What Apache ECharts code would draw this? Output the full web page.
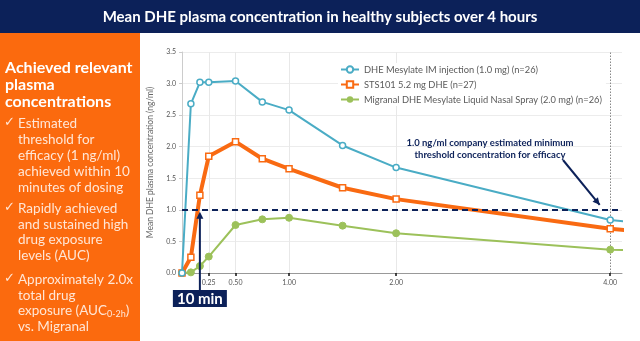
<!DOCTYPE html>
<html><head><meta charset="utf-8">
<script src="https://cdn.jsdelivr.net/npm/echarts@6/dist/echarts.min.js"></script>
<style>html,body{margin:0;padding:0;background:#fff}#c{width:640px;height:341px}</style>
</head><body><div id="c"></div>
<script>
// ---- data ----
var times = [0, 0.083, 0.167, 0.25, 0.5, 0.75, 1.0, 1.5, 2.0, 4.0, 6.0];
var imInjection = [0, 2.68, 3.02, 3.02, 3.04, 2.71, 2.58, 2.02, 1.67, 0.84, 0.48];
var sts101 = [0, 0.25, 1.23, 1.85, 2.08, 1.81, 1.65, 1.35, 1.17, 0.70, 0.42];
var migranal = [0, 0.01, 0.11, 0.26, 0.76, 0.85, 0.875, 0.75, 0.63, 0.37, 0.28];
var seriesNames = ['DHE Mesylate IM injection (1.0 mg) (n=26)', 'STS101 5.2 mg DHE (n=27)', 'Migranal DHE Mesylate Liquid Nasal Spray (2.0 mg) (n=26)'];
var xTickValues = [0.25, 0.5, 1.0, 2.0, 4.0];
var threshold = 1.0;
var tenMin = 0.167;

function pairs(v){ return times.map(function(t,i){ return [t, v[i]]; }); }

var chart = echarts.init(document.getElementById('c'), null, {renderer:'canvas'});
var font = 'Lato, "Open Sans", sans-serif';
var navy = '#0c2159';

var option = {
  animation:false,
  textStyle:{fontFamily:font},
  grid:{left:182, right:18, top:52, bottom:68},
  xAxis:{type:'value', min:0, max:4.11,
    axisLine:{lineStyle:{color:'#999', width:1}},
    axisTick:{show:true, customValues:xTickValues, length:3, inside:false, lineStyle:{color:'#111', width:1.5}},
    axisLabel:{customValues:xTickValues, formatter:function(v){return v.toFixed(2);}, fontSize:7, color:'#555', margin:6},
    splitLine:{show:false}},
  yAxis:{type:'value', min:0, max:3.5, interval:0.5,
    name:'Mean DHE plasma concentration (ng/ml)', nameLocation:'middle', nameGap:27,
    nameTextStyle:{fontSize:8.5, color:'#666'},
    axisLine:{show:true, lineStyle:{color:'#ccc'}},
    axisTick:{show:true, length:3, lineStyle:{color:'#ccc'}},
    axisLabel:{formatter:function(v){return v.toFixed(1);}, fontSize:7, color:'#555', margin:6},
    splitLine:{lineStyle:{color:'#ececec'}}},
  legend:{orient:'vertical', left:338, top:63, itemGap:6, itemWidth:18, itemHeight:8, padding:[2,4,2,2],
    backgroundColor:'#fff', z:12,
    textStyle:{fontSize:9.3, color:'#5a5a5a', fontFamily:font},
    data:seriesNames},
  series:[
    {name:seriesNames[0], type:'line', data:pairs(imInjection), clip:true, z:4,
     symbol:'circle', symbolSize:6, itemStyle:{color:'#fff', borderColor:'#4aacc5', borderWidth:1.5},
     lineStyle:{color:'#4aacc5', width:2},
     markLine:{silent:true, symbol:'none', label:{show:false}, z:1,
       lineStyle:{color:'#e8e8e8', width:1, type:'solid'},
       data:xTickValues.slice(0,4).map(function(v){return {xAxis:v};}).concat([
         {xAxis:xTickValues[4], lineStyle:{color:'#888', type:[1.5,1.5], width:1}}])}},
    {name:seriesNames[1], type:'line', data:pairs(sts101), clip:true, z:3,
     symbol:'rect', symbolSize:6, itemStyle:{color:'#fff', borderColor:'#f96a12', borderWidth:1.5},
     lineStyle:{color:'#f96a12', width:4},
     markLine:{silent:true, symbol:'none', label:{show:false},
       lineStyle:{color:navy, width:2, type:[6,4]}, z:10,
       data:[{yAxis:threshold}]}},
    {name:seriesNames[2], type:'line', data:pairs(migranal), clip:true, z:2,
     symbol:'circle', symbolSize:7, itemStyle:{color:'#9cc15a', borderColor:'#9cc15a'},
     lineStyle:{color:'#9cc15a', width:2}}
  ]
};
chart.setOption(option);

var tip10 = chart.convertToPixel({gridIndex:0}, [tenMin, threshold]);
var tip4 = chart.convertToPixel({gridIndex:0}, [3.92, threshold]);
var axisY0 = chart.convertToPixel({gridIndex:0}, [0, 0]);

function arrowHead(x1,y1,x2,y2){
  var a=Math.atan2(y2-y1,x2-x1), L=7, W=3.5;
  var bx=x2-L*Math.cos(a), by=y2-L*Math.sin(a);
  return [[x2,y2],[bx+W*Math.sin(a), by-W*Math.cos(a)],[bx-W*Math.sin(a), by+W*Math.cos(a)]];
}

var bodyColor = '#ffe6d6';
var graphics = [
  {type:'rect', z:5, shape:{x:0, y:0, width:640, height:33}, style:{fill:navy}},
  {type:'text', z:6, x:320, y:17, style:{text:'Mean DHE plasma concentration in healthy subjects over 4 hours', fill:'#fff', font:'bold 15px '+font, align:'center', verticalAlign:'middle'}},
  {type:'rect', z:5, shape:{x:0, y:33, width:140, height:308}, style:{fill:'#fb6a0e'}},
  {type:'text', z:6, x:5, y:59, style:{text:'Achieved relevant\nplasma\nconcentrations', fill:'#fff', font:'bold 16px '+font, lineHeight:17}},
  {type:'text', z:6, x:4, y:116, style:{text:'✓', fill:bodyColor, font:'13px "DejaVu Sans"'}},
  {type:'text', z:6, x:18, y:116, style:{text:'Estimated\nthreshold for\nefficacy (1 ng/ml)\nachieved within 10\nminutes of dosing', fill:bodyColor, font:'13.5px '+font, lineHeight:16}},
  {type:'text', z:6, x:4, y:201, style:{text:'✓', fill:bodyColor, font:'13px "DejaVu Sans"'}},
  {type:'text', z:6, x:18, y:201, style:{text:'Rapidly achieved\nand sustained high\ndrug exposure\nlevels (AUC)', fill:bodyColor, font:'13.5px '+font, lineHeight:15.5}},
  {type:'text', z:6, x:4, y:272, style:{text:'✓', fill:bodyColor, font:'13px "DejaVu Sans"'}},
  {type:'text', z:6, x:18, y:272, style:{
    rich:{b:{fill:bodyColor, fontSize:13.5, fontFamily:font, lineHeight:15.5},
          s:{fill:bodyColor, fontSize:9, fontFamily:font, lineHeight:15.5, padding:[6,0,0,0]}},
    text:'{b|Approximately 2.0x}\n{b|total drug}\n{b|exposure (AUC}{s|0-2h}{b|)}\n{b|vs. Migranal}'}},
  // threshold annotation
  {type:'text', z:6, x:490, y:149, style:{text:'1.0 ng/ml company estimated minimum\nthreshold concentration for efficacy', fill:navy, font:'bold 9.5px '+font, align:'center', verticalAlign:'middle', lineHeight:11.5}},
  {type:'line', z:6, shape:{x1:563, y1:160, x2:tip4[0]-2, y2:tip4[1]-5}, style:{stroke:navy, lineWidth:2}},
  {type:'polygon', z:6, shape:{points:arrowHead(563,160,tip4[0]-2,tip4[1]-5)}, style:{fill:navy}},
  // 10 min
  {type:'line', z:20, shape:{x1:tip10[0], y1:axisY0[1]+17, x2:tip10[0], y2:tip10[1]+4}, style:{stroke:navy, lineWidth:2}},
  {type:'polygon', z:20, shape:{points:arrowHead(tip10[0], axisY0[1]+17, tip10[0], tip10[1]+2)}, style:{fill:navy}},
  {type:'rect', z:20, shape:{x:tip10[0]-27, y:axisY0[1]+17, width:54, height:17}, style:{fill:navy}},
  {type:'text', z:21, x:tip10[0], y:axisY0[1]+26, style:{text:'10 min', fill:'#fff', font:'bold 15px '+font, align:'center', verticalAlign:'middle'}}
];
chart.setOption({graphic:graphics});
</script></body></html>
